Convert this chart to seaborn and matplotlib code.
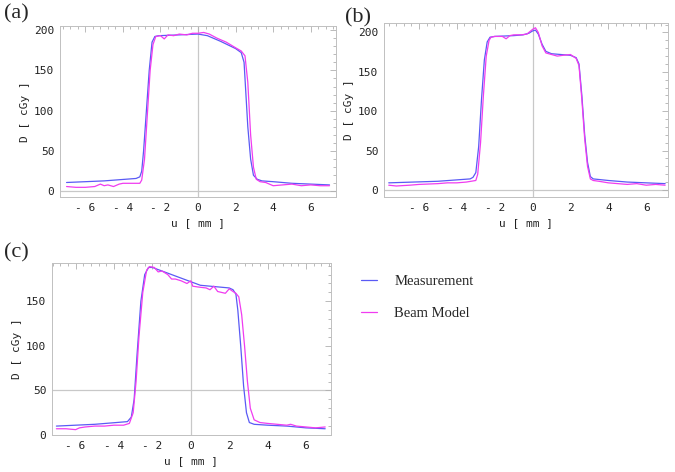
import numpy as np
import pandas as pd
import seaborn as sns
import matplotlib.pyplot as plt
from matplotlib.ticker import MultipleLocator, FuncFormatter

# panel (a)
a_meas_u = [-7.0, -5.0, -3.3, -3.1, -3.0, -2.9, -2.75, -2.6, -2.45, -2.3, -2.1, -1.0, 0.0, 0.5,
            1.2, 2.0, 2.3, 2.45, 2.55, 2.65, 2.8, 2.95, 3.15, 3.4, 4.0, 5.0, 6.0, 7.0]
a_meas_d = [11, 13, 16, 18, 25, 50, 100, 150, 185, 192, 193, 194, 195, 193,
            186, 177, 172, 160, 120, 80, 40, 20, 15, 13, 12, 10, 9, 8]
a_model_u = [-7.0, -6.5, -6.0, -5.5, -5.2, -5.0, -4.8, -4.5, -4.2, -4.0, -3.5, -3.1, -3.0, -2.85,
             -2.7, -2.55, -2.4, -2.25, -2.0, -1.8, -1.6, -1.3, -1.0, -0.6, -0.3, 0.0, 0.3, 0.6,
             1.0, 1.5, 2.0, 2.3, 2.5, 2.65, 2.8, 2.95, 3.1, 3.3, 3.6, 4.0, 4.5, 5.0, 5.5, 6.0,
             6.5, 7.0]
a_model_d = [6, 5, 5, 6, 9, 7, 8, 6, 9, 10, 10, 10, 14, 40,
             95, 150, 182, 192, 193, 189, 194, 193, 195, 194, 196, 196, 197, 195,
             190, 185, 178, 174, 168, 135, 70, 30, 15, 12, 11, 7, 8, 9, 7, 8,
             7, 7]

# panel (b)
b_meas_u = [-7.6, -5.0, -3.3, -3.15, -3.0, -2.85, -2.7, -2.55, -2.4, -2.25, -2.0, -1.0, -0.5,
            -0.2, 0.0, 0.15, 0.3, 0.5, 0.7, 1.0, 2.0, 2.3, 2.45, 2.6, 2.75, 2.9, 3.05, 3.2,
            4.0, 5.0, 6.0, 7.0]
b_meas_d = [9, 11, 14, 16, 22, 55, 115, 165, 188, 194, 195, 196, 197,
            199, 202, 203, 198, 185, 176, 173, 171, 168, 160, 120, 70, 35, 17, 14,
            12, 10, 9, 8]
b_model_u = [-7.6, -7.2, -6.5, -6.0, -5.0, -4.5, -4.0, -3.5, -3.0, -2.9, -2.75, -2.6, -2.45,
             -2.3, -2.2, -2.0, -1.6, -1.4, -1.2, -1.0, -0.6, -0.3, 0.0, 0.15, 0.3, 0.5,
             0.7, 1.0, 1.3, 1.6, 2.0, 2.3, 2.45, 2.6, 2.75, 2.9, 3.05, 3.2, 3.5, 4.0, 4.5,
             5.0, 5.5, 6.0, 6.5, 7.0]
b_model_d = [6, 5, 6, 7, 8, 9, 9, 10, 12, 20, 60, 120, 170,
             190, 194, 195, 195, 192, 196, 197, 197, 198, 204, 206, 200, 183,
             174, 172, 170, 171, 172, 167, 158, 115, 65, 30, 14, 12, 11, 9, 8,
             7, 8, 6, 7, 6]

# panel (c)
c_meas_u = [-7.0, -5.0, -3.3, -3.1, -2.95, -2.8, -2.6, -2.4, -2.2, -2.0, -1.5, -1.0, 0.0, 0.5,
            1.0, 2.0, 2.2, 2.35, 2.45, 2.6, 2.75, 2.9, 3.05, 3.3, 4.0, 5.0, 6.0, 7.0]
c_meas_d = [10, 12, 15, 20, 40, 90, 150, 180, 188, 188, 184, 180, 172, 168,
            167, 165, 163, 158, 140, 100, 55, 25, 14, 12, 11, 10, 8, 7]
c_model_u = [-7.0, -6.5, -6.0, -5.8, -5.5, -5.0, -4.5, -4.0, -3.5, -3.2, -3.0, -2.85, -2.7,
             -2.5, -2.3, -2.15, -1.9, -1.7, -1.5, -1.2, -1.0, -0.8, -0.5, -0.2, 0.0, 0.1,
             0.4, 0.8, 1.0, 1.2, 1.4, 1.6, 1.8, 2.0, 2.2, 2.35, 2.5, 2.65, 2.8, 2.95, 3.1,
             3.3, 3.6, 4.0, 4.5, 5.0, 5.2, 5.5, 6.0, 6.5, 7.0]
c_model_d = [7, 7, 6, 8, 9, 10, 10, 11, 11, 13, 25, 60, 110,
             160, 185, 189, 188, 183, 184, 180, 175, 175, 173, 170, 173, 167,
             166, 165, 163, 167, 161, 160, 159, 164, 161, 159, 155, 135, 100, 60, 30,
             17, 14, 13, 12, 11, 12, 10, 9, 8, 9]

series = ["Measurement", "Beam Model"]
colors = {"Measurement": "#5a5af5", "Beam Model": "#f03cf0"}


def make_df(mu, md, bu, bd):
    return pd.concat([
        pd.DataFrame({"u": mu, "D": md, "series": series[0]}),
        pd.DataFrame({"u": bu, "D": bd, "series": series[1]}),
    ])


# label, data, axes rect, xlim, ylim, gray horizontal axis, label position
panels = [
    ("(a)", make_df(a_meas_u, a_meas_d, a_model_u, a_model_d),
     [0.0889, 0.5826, 0.409, 0.3623], (-7.35, 7.35), (-7, 205), 0, (0.006, 0.992)),
    ("(b)", make_df(b_meas_u, b_meas_d, b_model_u, b_model_d),
     [0.5689, 0.5826, 0.4207, 0.3686], (-7.85, 7.15), (-9, 212), 0, (0.511, 0.982)),
    ("(c)", make_df(c_meas_u, c_meas_d, c_model_u, c_model_d),
     [0.077, 0.0784, 0.4133, 0.3644], (-7.23, 7.3), (0, 193), 50, (0.006, 0.484)),
]

sns.set_style("white")
plt.rcParams["font.family"] = ["DejaVu Sans Mono"]

fig = plt.figure(figsize=(6.75, 4.72), dpi=100)
fmt = FuncFormatter(lambda v, p: f"- {abs(v):g}" if v < 0 else f"{v:g}")

for label, df, rect, xl, yl, hline, lpos in panels:
    ax = fig.add_axes(rect)
    ax.axvline(0, color="#c8c8c8", lw=0.9, zorder=0)
    ax.axhline(hline, color="#c8c8c8", lw=0.9, zorder=0)
    sns.lineplot(data=df, x="u", y="D", hue="series", palette=colors,
                 sort=False, estimator=None, lw=0.9, ax=ax, legend=False)
    ax.set_xlim(*xl)
    ax.set_ylim(*yl)
    ax.xaxis.set_major_locator(MultipleLocator(2))
    ax.xaxis.set_minor_locator(MultipleLocator(0.4))
    ax.yaxis.set_major_locator(MultipleLocator(50))
    ax.yaxis.set_minor_locator(MultipleLocator(10))
    ax.xaxis.set_major_formatter(fmt)
    ax.tick_params(which="both", direction="in", top=True, right=True,
                   color="#b0b0b0", width=0.6, labelsize=8, labelcolor="#222222")
    ax.tick_params(which="major", length=4, pad=4)
    ax.tick_params(which="minor", length=2)
    for s in ax.spines.values():
        s.set_color("#c0c0c0")
        s.set_linewidth(0.7)
    ax.set_xlabel("u [ mm ]", fontsize=8, color="#222222", labelpad=4)
    ax.set_ylabel("D [ cGy ]", fontsize=8, color="#222222", labelpad=3)
    fig.text(lpos[0], lpos[1], label, fontsize=16, family="Liberation Serif",
             va="top", ha="left")

handles = [plt.Line2D([], [], color=colors[s], lw=0.9) for s in series]
fig.legend(handles, series, loc="upper left", bbox_to_anchor=(0.515, 0.445),
           frameon=False, handlelength=1.1, handletextpad=1.2, labelspacing=1.25,
           prop={"family": "Liberation Serif", "size": 10.5})

fig.savefig("out.png", dpi=100)
